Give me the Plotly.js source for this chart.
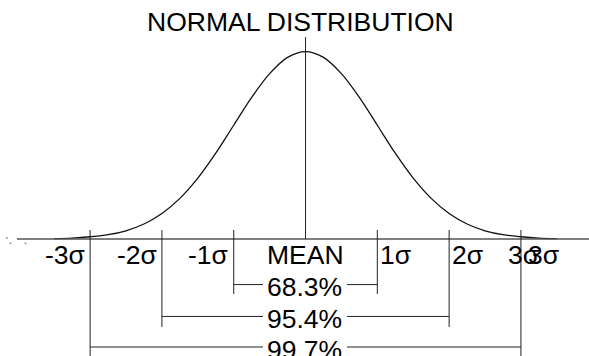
<!DOCTYPE html>
<html>
<head>
<meta charset="utf-8">
<script src="https://cdn.plot.ly/plotly-3.0.1.min.js"></script>
<style>
  html, body { margin: 0; padding: 0; background: #fff; }
  #chart { width: 589px; height: 356px; }
</style>
</head>
<body>
<div id="chart"></div>
<script>
// ── Data (x in sigma units, height relative to peak) ─────────────────────────

const curveX = [-3.5, -3.25, -3, -2.75, -2.5, -2.25, -2, -1.75, -1.5, -1.25, -1, -0.75, -0.5, -0.25, 0,
                0.25, 0.5, 0.75, 1, 1.25, 1.5, 1.75, 2, 2.25, 2.5, 2.75, 3, 3.25, 3.5];
const curveY = [0.002, 0.005, 0.012, 0.023, 0.044, 0.08, 0.136, 0.217, 0.325, 0.458, 0.607, 0.755, 0.882, 0.969, 1,
                0.969, 0.882, 0.755, 0.607, 0.458, 0.325, 0.217, 0.136, 0.08, 0.044, 0.023, 0.012, 0.005, 0.002];

const sigmaPos    = [-3, -2, -1, 1, 2, 3];
const sigmaLabels = ['-3σ', '-2σ', '-1σ', '1σ', '2σ', '3σ'];
const extraLabels = ['3σ'];           // second, overlapping 3σ label at the right
const meanLabel   = 'MEAN';

const bands      = [1, 2, 3];
const bandLabels = ['68.3%', '95.4%', '99.7%'];

const specksX = [-4.16, -4.11, -3.9];
const specksY = [0.005, -0.022, -0.022];

// ── Layout helpers ───────────────────────────────────────────────────────────

const FONT   = { family: '"Liberation Sans", Arial, sans-serif', size: 26.5, color: '#000' };
const LINE   = { color: '#222', width: 1 };

const TICK_TOP  = 0.048;
const MEAN_TOP  = 1.077;
const BAND_Y    = [-0.243, -0.413, -0.576];
const BAND_BOT  = [-0.293, -0.469, -0.7];
const BAND_TXT  = [-0.255, -0.425, -0.59];
const LABEL_Y   = -0.085;
const GAP_L     = -0.592, GAP_R = 0.578;

const shapes = [];
const seg = (x0, y0, x1, y1, line = LINE) =>
  shapes.push({ type: 'line', xref: 'x', yref: 'y', x0, y0, x1, y1, line });

// axis
seg(-4.02, 0, 3.96, 0, { color: '#555', width: 1.5 });
// mean line
seg(0, 0, 0, MEAN_TOP);
// sigma ticks, running down to their band
sigmaPos.forEach(s => {
  const b = Math.abs(s) - 1;
  seg(s, TICK_TOP, s, BAND_BOT[b]);
});
// band brackets either side of the percentage text
bands.forEach((s, i) => {
  seg(-s, BAND_Y[i], GAP_L, BAND_Y[i]);
  seg(GAP_R, BAND_Y[i], s, BAND_Y[i]);
});

const annotations = [];
const note = (text, x, y, xanchor) => annotations.push({
  text, x, y, xref: 'x', yref: 'y', xanchor, yanchor: 'middle',
  showarrow: false, font: FONT, borderpad: 0,
});

sigmaPos.forEach((s, i) => {
  if (s < 0) note(sigmaLabels[i], s - 0.06, LABEL_Y, 'right');
  else       note(sigmaLabels[i], s + 0.03 - (s === 3 ? 0.22 : 0), LABEL_Y, 'left');
});
extraLabels.forEach(t => note(t, 3.08, LABEL_Y, 'left'));
note(meanLabel, 0, LABEL_Y, 'center');
bandLabels.forEach((t, i) => note(t, -0.01, BAND_TXT[i], 'center'));

annotations.push({
  text: 'NORMAL DISTRIBUTION', xref: 'paper', yref: 'paper', x: 0.51, y: 0.937,
  xanchor: 'center', yanchor: 'middle', showarrow: false, font: FONT,
});

const traces = [
  { x: curveX, y: curveY, type: 'scatter', mode: 'lines',
    line: { color: '#111', width: 1.3, shape: 'spline', smoothing: 1 }, hoverinfo: 'skip' },
  { x: specksX, y: specksY, type: 'scatter', mode: 'markers',
    marker: { color: '#999', size: 2 }, hoverinfo: 'skip' },
];

const layout = {
  width: 589, height: 356,
  margin: { t: 0, b: 0, l: 0, r: 0 },
  paper_bgcolor: '#fff', plot_bgcolor: '#fff',
  showlegend: false,
  xaxis: { range: [-4.255, 3.948], visible: false, fixedrange: true },
  yaxis: { range: [-0.624, 1.275], visible: false, fixedrange: true },
  shapes, annotations,
};

Plotly.newPlot('chart', traces, layout, { displayModeBar: false, staticPlot: true });
</script>
</body>
</html>
